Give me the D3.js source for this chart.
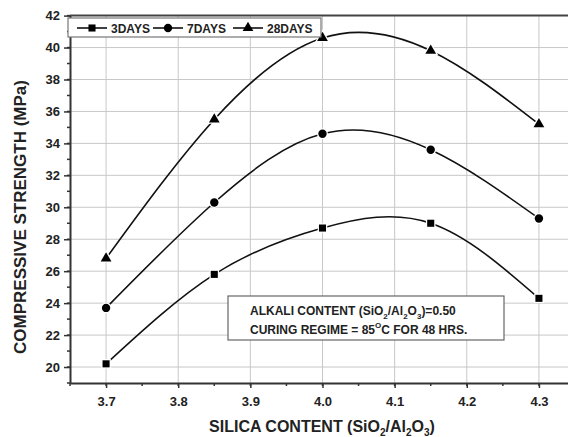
<!DOCTYPE html>
<html>
<head>
<meta charset="utf-8">
<script src="https://cdn.jsdelivr.net/npm/d3@7"></script>
<style>
  body { margin: 0; background: #fff; }
  text { font-family: "Liberation Sans", Arial, sans-serif; font-weight: bold; fill: #222; }
</style>
</head>
<body>
<div id="chart"></div>
<script>
// silica content (x) and strength per curing age
const silica = [3.7, 3.85, 4.0, 4.15, 4.3];
const days3 = [20.2, 25.8, 28.7, 29.0, 24.3];
const days7 = [23.7, 30.3, 34.6, 33.6, 29.3];
const days28 = [26.8, 35.5, 40.6, 39.8, 35.2];
const seriesNames = ['3DAYS', '7DAYS', '28DAYS'];
const xTicks = [3.7, 3.8, 3.9, 4.0, 4.1, 4.2, 4.3];
const yTicks = [20, 22, 24, 26, 28, 30, 32, 34, 36, 38, 40, 42];

const series = [
  { name: seriesNames[0], values: days3, symbol: d3.symbolSquare, size: 50 },
  { name: seriesNames[1], values: days7, symbol: d3.symbolCircle, size: 55 },
  { name: seriesNames[2], values: days28, symbol: d3.symbolTriangle, size: 50 }
];

let margin = {top: 15.6, right: -7, bottom: 54, left: 70};
let W = 568, H = 437;
let width = W - margin.left - margin.right;
let height = H - margin.top - margin.bottom;

let svg = d3.select('#chart').append('svg')
    .attr('width', W)
    .attr('height', H)
    .style('display', 'block');

let g = svg.append('g')
    .attr('transform', 'translate(' + margin.left + ',' + margin.top + ')');

let xScale = d3.scaleLinear().domain([3.65, 4.35]).range([0, width]);
let yScale = d3.scaleLinear().domain([19, 42]).range([height, 0]);

// grid
g.append('g').selectAll('line').data(xTicks).enter().append('line')
    .attr('x1', d => xScale(d)).attr('x2', d => xScale(d))
    .attr('y1', 0).attr('y2', height)
    .attr('stroke', '#c8c8c8').attr('stroke-width', 1);
g.append('g').selectAll('line').data(yTicks).enter().append('line')
    .attr('x1', 0).attr('x2', width)
    .attr('y1', d => yScale(d)).attr('y2', d => yScale(d))
    .attr('stroke', '#c8c8c8').attr('stroke-width', 1);

// frame top
g.append('line')
    .attr('x1', 0).attr('x2', width).attr('y1', 0).attr('y2', 0)
    .attr('stroke', '#444').attr('stroke-width', 2);

// minor ticks
let xMinor = d3.range(3.65, 4.351, 0.05);
let yMinor = d3.range(19, 42.01, 1);
g.append('g').selectAll('line').data(xMinor).enter().append('line')
    .attr('x1', d => xScale(d)).attr('x2', d => xScale(d))
    .attr('y1', height).attr('y2', height + 3)
    .attr('stroke', '#333').attr('stroke-width', 1.5);
g.append('g').selectAll('line').data(yMinor).enter().append('line')
    .attr('x1', -3).attr('x2', 0)
    .attr('y1', d => yScale(d)).attr('y2', d => yScale(d))
    .attr('stroke', '#333').attr('stroke-width', 1.5);

let xAxis = d3.axisBottom(xScale).tickValues(xTicks).tickFormat(d3.format('.1f'))
    .tickSizeInner(5).tickSizeOuter(0).tickPadding(9);
let yAxis = d3.axisLeft(yScale).tickValues(yTicks)
    .tickSizeInner(6).tickSizeOuter(0).tickPadding(4);

let gx = g.append('g')
    .attr('transform', 'translate(0,' + height + ')')
    .call(xAxis);
let gy = g.append('g').call(yAxis);

[gx, gy].forEach(a => {
    a.select('.domain').attr('stroke', '#333').attr('stroke-width', 2);
    a.selectAll('.tick line').attr('stroke', '#333').attr('stroke-width', 1.5);
    a.selectAll('.tick text')
        .style('font-family', '"Liberation Sans", Arial, sans-serif')
        .style('font-weight', 'bold').style('font-size', '13px').attr('fill', '#222');
});

// curves
let line = d3.line()
    .x((d, i) => xScale(silica[i]))
    .y(d => yScale(d))
    .curve(d3.curveNatural);

series.forEach(s => {
    g.append('path')
        .datum(s.values)
        .attr('d', line)
        .attr('fill', 'none')
        .attr('stroke', '#111')
        .attr('stroke-width', 1.6);
});

series.forEach(s => {
    g.append('g').selectAll('path').data(s.values).enter().append('path')
        .attr('d', d3.symbol().type(s.symbol).size(s.size))
        .attr('transform', (d, i) => 'translate(' + xScale(silica[i]) + ',' + yScale(d) + ')')
        .attr('fill', '#000')
        .attr('stroke', '#fff')
        .attr('stroke-width', 2.5)
        .attr('paint-order', 'stroke');
});

// legend
let legend = svg.append('g').attr('transform', 'translate(68,18)');
legend.append('rect')
    .attr('width', 253).attr('height', 19)
    .attr('fill', '#fff').attr('stroke', '#777').attr('stroke-width', 1.2);
let legendX = [9, 85, 165];
series.forEach((s, i) => {
    let item = legend.append('g').attr('transform', 'translate(' + legendX[i] + ',10)');
    item.append('line').attr('x1', 0).attr('x2', 30).attr('y1', 0).attr('y2', 0)
        .attr('stroke', '#111').attr('stroke-width', 1.6);
    item.append('path')
        .attr('d', d3.symbol().type(s.symbol).size(s.size))
        .attr('transform', 'translate(15,0)')
        .attr('fill', '#000');
    item.append('text')
        .attr('x', 34).attr('y', 4.5)
        .style('font-size', '12px')
        .text(s.name);
});

// note box
let note = svg.append('g').attr('transform', 'translate(228,296)');
note.append('rect')
    .attr('width', 276).attr('height', 44)
    .attr('fill', '#fff').attr('stroke', '#666').attr('stroke-width', 1.2);
let t1 = note.append('text').attr('x', 22).attr('y', 19).style('font-size', '12px');
t1.append('tspan').text('ALKALI CONTENT (SiO');
t1.append('tspan').attr('dy', 4).style('font-size', '8px').text('2');
t1.append('tspan').attr('dy', -4).text('/Al');
t1.append('tspan').attr('dy', 4).style('font-size', '8px').text('2');
t1.append('tspan').attr('dy', -4).text('O');
t1.append('tspan').attr('dy', 4).style('font-size', '8px').text('3');
t1.append('tspan').attr('dy', -4).text(')=0.50');
let t2 = note.append('text').attr('x', 22).attr('y', 38).style('font-size', '12px');
t2.append('tspan').text('CURING REGIME = 85');
t2.append('tspan').attr('dy', -6).style('font-size', '8px').text('O');
t2.append('tspan').attr('dy', 6).text('C FOR 48 HRS.');

// axis titles
let xt = svg.append('text')
    .attr('x', 322).attr('y', 432)
    .attr('text-anchor', 'middle')
    .style('font-size', '16px');
xt.append('tspan').text('SILICA CONTENT (SiO');
xt.append('tspan').attr('dy', 4).style('font-size', '10px').text('2');
xt.append('tspan').attr('dy', -4).text('/Al');
xt.append('tspan').attr('dy', 4).style('font-size', '10px').text('2');
xt.append('tspan').attr('dy', -4).text('O');
xt.append('tspan').attr('dy', 4).style('font-size', '10px').text('3');
xt.append('tspan').attr('dy', -4).text(')');

svg.append('text')
    .attr('transform', 'translate(26,217) rotate(-90)')
    .attr('text-anchor', 'middle')
    .style('font-size', '17px')
    .text('COMPRESSIVE STRENGTH (MPa)');
</script>
</body>
</html>
